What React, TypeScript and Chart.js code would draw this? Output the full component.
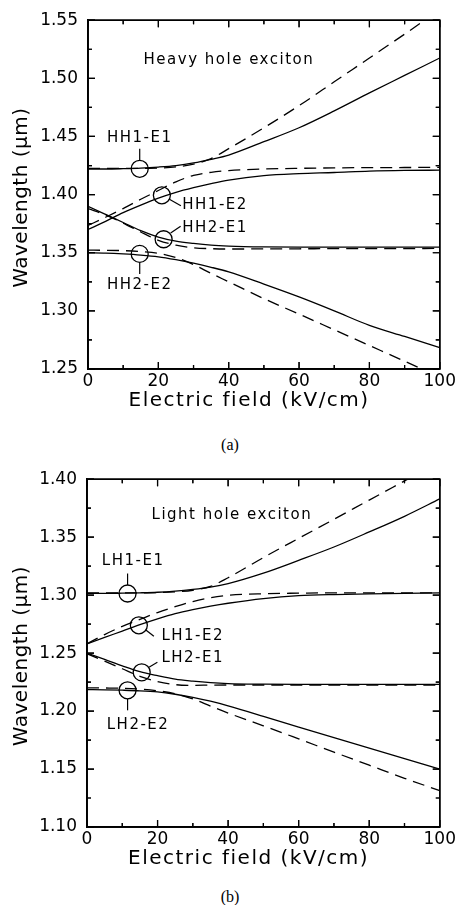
import React, { useEffect, useRef } from 'react';
import { Chart, registerables } from 'chart.js';

Chart.register(...registerables);

// ---------------- data ----------------
const FIELD_KV = [0, 5, 10, 15, 20, 25, 30, 35, 40, 50, 60, 70, 80, 90, 100];
const X_TICKS = [0, 20, 40, 60, 80, 100];

// (a) Heavy hole exciton
const HH_Y_TICKS = [1.25, 1.3, 1.35, 1.4, 1.45, 1.5, 1.55];
const HH1_E1_SOLID = [1.422, 1.422, 1.4223, 1.4228, 1.4237, 1.425, 1.4272, 1.4303, 1.434, 1.4455, 1.4575, 1.472, 1.4875, 1.5025, 1.5175];
const HH1_E2_SOLID = [1.37, 1.377, 1.3845, 1.391, 1.397, 1.402, 1.406, 1.4095, 1.4125, 1.4163, 1.418, 1.419, 1.4202, 1.4208, 1.421];
const HH2_E1_SOLID = [1.39, 1.383, 1.376, 1.369, 1.3635, 1.36, 1.358, 1.3565, 1.3557, 1.355, 1.3548, 1.3548, 1.3548, 1.3548, 1.3548];
const HH2_E2_SOLID = [1.35, 1.3497, 1.349, 1.348, 1.3465, 1.344, 1.341, 1.3375, 1.3335, 1.323, 1.312, 1.3, 1.2875, 1.278, 1.2684];
const HH1_E1_DASHED = [1.4225, 1.4225, 1.4225, 1.4226, 1.4228, 1.4238, 1.4262, 1.431, 1.4395, 1.4575, 1.4765, 1.497, 1.5175, 1.538, 1.559];
const HH1_E2_DASHED = [1.3735, 1.3805, 1.388, 1.396, 1.4035, 1.411, 1.4165, 1.4192, 1.4207, 1.422, 1.4226, 1.423, 1.4232, 1.4233, 1.4234];
const HH2_E1_DASHED = [1.388, 1.3825, 1.3755, 1.3678, 1.3607, 1.3565, 1.3543, 1.3535, 1.3532, 1.3533, 1.3534, 1.3535, 1.3536, 1.3536, 1.3537];
const HH2_E2_DASHED = [1.3522, 1.3521, 1.3518, 1.351, 1.3495, 1.3458, 1.3398, 1.3322, 1.325, 1.3105, 1.2972, 1.2837, 1.2702, 1.2567, 1.243];
const HH_LABELS = ['HH1-E1', 'HH1-E2', 'HH2-E1', 'HH2-E2'];
const HH_MARK_KV = [14.7, 21, 21.5, 14.7];
const HH_MARK_UM = [1.4222, 1.3994, 1.3616, 1.349];
const HH_LABEL_KV = [5.4, 26.8, 26.8, 5.4];
const HH_LABEL_UM = [1.4483, 1.3911, 1.3712, 1.322];

// (b) Light hole exciton
const LH_Y_TICKS = [1.1, 1.15, 1.2, 1.25, 1.3, 1.35, 1.4];
const LH1_E1_SOLID = [1.3015, 1.3015, 1.3017, 1.302, 1.3025, 1.3035, 1.305, 1.307, 1.31, 1.319, 1.33, 1.3415, 1.3545, 1.368, 1.383];
const LH1_E2_SOLID = [1.258, 1.2635, 1.269, 1.2745, 1.2795, 1.284, 1.2875, 1.2905, 1.293, 1.297, 1.2995, 1.3005, 1.301, 1.3015, 1.302];
const LH2_E1_SOLID = [1.25, 1.2445, 1.239, 1.234, 1.2305, 1.2275, 1.2258, 1.2245, 1.2237, 1.2232, 1.223, 1.223, 1.223, 1.223, 1.223];
const LH2_E2_SOLID = [1.2185, 1.2183, 1.218, 1.2175, 1.2165, 1.2145, 1.2118, 1.2085, 1.2045, 1.1955, 1.1862, 1.177, 1.168, 1.159, 1.15];
const LH1_E1_DASHED = [1.302, 1.302, 1.302, 1.302, 1.3022, 1.3028, 1.3042, 1.3075, 1.315, 1.3324, 1.349, 1.3654, 1.382, 1.3985, 1.415];
const LH1_E2_DASHED = [1.258, 1.266, 1.273, 1.279, 1.285, 1.29, 1.2945, 1.2978, 1.2998, 1.3012, 1.3017, 1.302, 1.302, 1.302, 1.302];
const LH2_E1_DASHED = [1.2495, 1.243, 1.2365, 1.23, 1.2255, 1.2228, 1.2222, 1.2224, 1.2225, 1.2225, 1.2225, 1.2225, 1.2225, 1.2225, 1.2225];
const LH2_E2_DASHED = [1.22, 1.2199, 1.2197, 1.219, 1.2175, 1.215, 1.2105, 1.2043, 1.1983, 1.1873, 1.176, 1.1646, 1.1533, 1.142, 1.1314];
const LH_LABELS = ['LH1-E1', 'LH1-E2', 'LH2-E1', 'LH2-E2'];
const LH_MARK_KV = [11.5, 14.7, 15.5, 11.5];
const LH_MARK_UM = [1.3014, 1.274, 1.2334, 1.2179];
const LH_LABEL_KV = [4.2, 21.1, 21.1, 5.6];
const LH_LABEL_UM = [1.3295, 1.2649, 1.2453, 1.1875];

const X_TITLE = 'Electric field (kV/cm)';
const Y_TITLE = 'Wavelength (\u03bcm)';

// ---------------- panels ----------------
type PanelCfg = {
  id: string;
  yTicks: number[];
  solid: number[][];
  dashed: number[][];
  labels: string[];
  markKv: number[];
  markUm: number[];
  labelKv: number[];
  labelUm: number[];
  heading: string;
  headingKv: number;
  headingUm: number;
  leaders: number[][];
  yAxisWidth: number;
  xAxisHeight: number;
};

const PANELS: PanelCfg[] = [
  {
    id: 'a',
    yTicks: HH_Y_TICKS,
    solid: [HH1_E1_SOLID, HH1_E2_SOLID, HH2_E1_SOLID, HH2_E2_SOLID],
    dashed: [HH1_E1_DASHED, HH1_E2_DASHED, HH2_E1_DASHED, HH2_E2_DASHED],
    labels: HH_LABELS,
    markKv: HH_MARK_KV,
    markUm: HH_MARK_UM,
    labelKv: HH_LABEL_KV,
    labelUm: HH_LABEL_UM,
    heading: 'Heavy hole exciton',
    headingKv: 15.8,
    headingUm: 1.516,
    leaders: [[0, -8.5, 0, -20], [7.5, 4, 19, 10.5], [7, -6.3, 17, -13], [0, 8.5, 0, 20]],
    yAxisWidth: 88,
    xAxisHeight: 56,
  },
  {
    id: 'b',
    yTicks: LH_Y_TICKS,
    solid: [LH1_E1_SOLID, LH1_E2_SOLID, LH2_E1_SOLID, LH2_E2_SOLID],
    dashed: [LH1_E1_DASHED, LH1_E2_DASHED, LH2_E1_DASHED, LH2_E2_DASHED],
    labels: LH_LABELS,
    markKv: LH_MARK_KV,
    markUm: LH_MARK_UM,
    labelKv: LH_LABEL_KV,
    labelUm: LH_LABEL_UM,
    heading: 'Light hole exciton',
    headingKv: 18.3,
    headingUm: 1.3686,
    leaders: [[0, -8.5, 0, -20], [7, 4.7, 15, 11], [7.3, -5, 15.7, -10], [0, 8.5, 0, 20]],
    yAxisWidth: 87,
    xAxisHeight: 57,
  },
];

const FONT = '"DejaVu Sans", "Liberation Sans", sans-serif';

function drawFrame(chart: any, p: PanelCfg) {
  const ctx: CanvasRenderingContext2D = chart.ctx;
  const a = chart.chartArea;
  const xs = chart.scales.x;
  const ys = chart.scales.y;
  const L = a.left;
  const R = a.right;
  const T = a.top;
  const B = a.bottom;
  ctx.save();
  ctx.globalAlpha = 1;
  ctx.globalCompositeOperation = 'source-over';
  ctx.setLineDash([]);
  ctx.strokeStyle = '#000000';
  ctx.lineCap = 'butt';
  ctx.lineWidth = 1.5;
  ctx.beginPath();
  ctx.moveTo(L, T);
  ctx.lineTo(R, T);
  ctx.lineTo(R, B);
  ctx.lineTo(L, B);
  ctx.closePath();
  ctx.stroke();

  ctx.lineWidth = 1.2;
  const MAJ = 7;
  const MIN = 4;
  ctx.beginPath();
  const xTickAt = (v: number, len: number) => {
    const px = xs.getPixelForValue(v);
    ctx.moveTo(px, B);
    ctx.lineTo(px, B - len);
    ctx.moveTo(px, T);
    ctx.lineTo(px, T + len);
  };
  const yTickAt = (v: number, len: number) => {
    const py = ys.getPixelForValue(v);
    ctx.moveTo(L, py);
    ctx.lineTo(L + len, py);
    ctx.moveTo(R, py);
    ctx.lineTo(R - len, py);
  };
  X_TICKS.forEach((v, i) => {
    xTickAt(v, MAJ);
    if (i < X_TICKS.length - 1) xTickAt((v + X_TICKS[i + 1]) / 2, MIN);
  });
  p.yTicks.forEach((v, i) => {
    yTickAt(v, MAJ);
    if (i < p.yTicks.length - 1) yTickAt((v + p.yTicks[i + 1]) / 2, MIN);
  });
  ctx.stroke();
  ctx.restore();
}

function makeDecor(p: PanelCfg) {
  return {
    id: 'decor_' + p.id,
    afterDatasetsDraw(chart: any) {
      drawFrame(chart, p);
    },
    afterDraw(chart: any) {
      const ctx: any = chart.ctx;
      const a = chart.chartArea;
      const xs = chart.scales.x;
      const ys = chart.scales.y;
      ctx.save();
      ctx.setLineDash([]);
      ctx.strokeStyle = '#000';
      ctx.fillStyle = '#000';

      // leader lines
      ctx.lineWidth = 1.2;
      p.leaders.forEach((o, i) => {
        const cx = xs.getPixelForValue(p.markKv[i]);
        const cy = ys.getPixelForValue(p.markUm[i]);
        ctx.beginPath();
        ctx.moveTo(cx + o[0], cy + o[1]);
        ctx.lineTo(cx + o[2], cy + o[3]);
        ctx.stroke();
      });

      // annotation labels
      ctx.font = '15px ' + FONT;
      ctx.letterSpacing = '1.5px';
      ctx.textAlign = 'left';
      ctx.textBaseline = 'middle';
      p.labels.forEach((t, i) => {
        ctx.fillText(t, xs.getPixelForValue(p.labelKv[i]), ys.getPixelForValue(p.labelUm[i]));
      });
      ctx.fillText(p.heading, xs.getPixelForValue(p.headingKv), ys.getPixelForValue(p.headingUm));

      // axis titles
      ctx.font = '20px ' + FONT;
      ctx.letterSpacing = '1.5px';
      ctx.textAlign = 'center';
      ctx.fillText(X_TITLE, a.left + (a.right - a.left) * 0.458, a.bottom + 31.5);
      ctx.letterSpacing = '0.5px';
      ctx.translate(22, (a.top + a.bottom) / 2 + 3);
      ctx.rotate(-Math.PI / 2);
      ctx.fillText(Y_TITLE, 0, 0);
      ctx.letterSpacing = '0px';
      ctx.restore();

      drawFrame(chart, p);
    },
  };
}

function buildConfig(p: PanelCfg): any {
  const lineDs = (vals: number[], dashed: boolean) => ({
    type: 'line',
    data: FIELD_KV.map((x, i) => ({ x, y: vals[i] })),
    borderColor: '#000',
    borderWidth: 1.3,
    borderDash: dashed ? [12, 7] : [],
    pointRadius: 0,
    fill: false,
    cubicInterpolationMode: 'monotone',
  });
  const datasets: any[] = [
    ...p.solid.map((s) => lineDs(s, false)),
    ...p.dashed.map((s) => lineDs(s, true)),
    {
      type: 'scatter',
      data: p.markKv.map((x, i) => ({ x, y: p.markUm[i] })),
      pointStyle: 'circle',
      pointRadius: 8.5,
      pointBorderWidth: 1.3,
      pointBorderColor: '#000',
      pointBackgroundColor: 'rgba(0,0,0,0)',
      showLine: false,
    },
  ];
  const yMin = p.yTicks[0];
  const yMax = p.yTicks[p.yTicks.length - 1];
  return {
    type: 'line',
    data: { datasets },
    options: {
      animation: false,
      responsive: false,
      devicePixelRatio: 1,
      layout: { padding: { top: 15, right: 16, left: 0, bottom: 0 } },
      plugins: { legend: { display: false }, tooltip: { enabled: false }, title: { display: false } },
      scales: {
        x: {
          type: 'linear',
          min: X_TICKS[0],
          max: X_TICKS[X_TICKS.length - 1],
          grid: { display: false, drawTicks: false },
          border: { display: true, color: '#000', width: 1.5 },
          afterBuildTicks: (s: any) => {
            s.ticks = X_TICKS.map((v) => ({ value: v }));
          },
          afterFit: (s: any) => {
            s.height = p.xAxisHeight;
          },
          ticks: {
            color: '#000',
            font: { family: FONT, size: 17 },
            padding: 2,
            maxRotation: 0,
            autoSkip: false,
            callback: (v: any) => String(Math.round(Number(v))),
          },
        },
        y: {
          type: 'linear',
          min: yMin,
          max: yMax,
          grid: { display: false, drawTicks: false },
          border: { display: true, color: '#000', width: 1.5 },
          afterBuildTicks: (s: any) => {
            s.ticks = p.yTicks.map((v) => ({ value: v }));
          },
          afterFit: (s: any) => {
            s.width = p.yAxisWidth;
          },
          ticks: {
            color: '#000',
            font: { family: FONT, size: 17 },
            padding: 10,
            autoSkip: false,
            callback: (v: any) => Number(v).toFixed(2),
          },
        },
      },
    },
    plugins: [makeDecor(p)],
  };
}

function Panel({ cfg, top }: { cfg: PanelCfg; top: number }) {
  const ref = useRef<HTMLCanvasElement | null>(null);
  useEffect(() => {
    if (!ref.current) return;
    const chart = new Chart(ref.current, buildConfig(cfg));
    return () => chart.destroy();
  }, [cfg]);
  return (
    <canvas
      ref={ref}
      width={458}
      height={425}
      style={{ position: 'absolute', left: 0, top, width: 458, height: 425 }}
    />
  );
}

const captionStyle = (top: number): React.CSSProperties => ({
  position: 'absolute',
  left: 0,
  top,
  width: 460,
  textAlign: 'center',
  fontFamily: '"Liberation Serif", "DejaVu Serif", serif',
  fontSize: 16,
  lineHeight: '18px',
  color: '#000',
});

export default function App() {
  useEffect(() => {
    document.body.style.margin = '0';
    document.body.style.background = '#fff';
  }, []);
  return (
    <div style={{ position: 'relative', width: 458, height: 905, background: '#fff', overflow: 'hidden' }}>
      <Panel cfg={PANELS[0]} top={0} />
      <div style={captionStyle(436)}>(a)</div>
      <Panel cfg={PANELS[1]} top={459} />
      <div style={captionStyle(888)}>(b)</div>
    </div>
  );
}
